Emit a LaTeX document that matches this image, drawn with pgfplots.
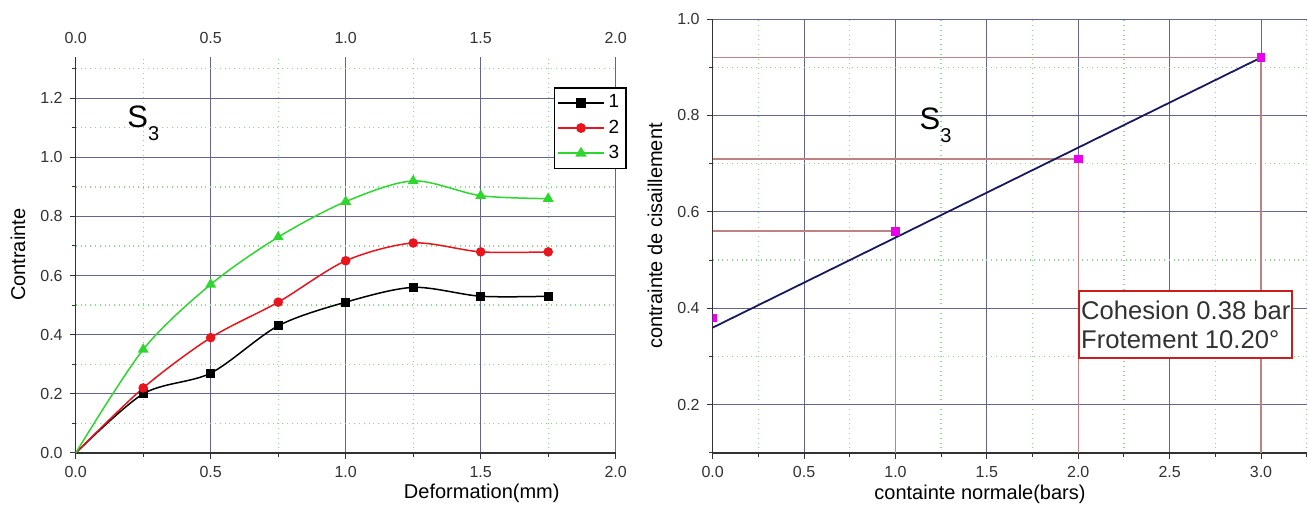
\documentclass[border=0pt]{standalone}
\usepackage{pgfplots}
\pgfplotsset{compat=1.18}
\usepackage{fontspec}
\setmainfont{Liberation Sans}
\definecolor{majgrid}{RGB}{100,100,145}
\definecolor{mingrid}{RGB}{140,215,140}
\definecolor{ser2}{RGB}{232,20,30}
\definecolor{ser3}{RGB}{45,215,45}
\definecolor{dropc}{RGB}{190,130,130}
\definecolor{ptc}{RGB}{235,0,235}
\definecolor{fitc}{RGB}{25,25,95}
\definecolor{txtc}{RGB}{50,50,50}
\definecolor{boxc}{RGB}{200,30,30}

\pgfplotsset{
  common/.style={
    scale only axis,
    axis x line*=bottom, axis y line*=left,
    axis line style={-, txtc, line width=0.6pt},
    grid=both,
    major grid style={majgrid, line width=0.5pt},
    minor grid style={mingrid, dotted, line width=0.7pt},
    tick style={txtc, line width=0.5pt},
    tick align=outside,
    major tick length=3pt, minor tick length=1.8pt,
    /pgf/number format/assume math mode=true,
    tick label style={font=\fontsize{8}{8}\selectfont, text=txtc},
    xticklabel style={/pgf/number format/fixed, /pgf/number format/fixed zerofill, /pgf/number format/precision=1},
    yticklabel style={/pgf/number format/fixed, /pgf/number format/fixed zerofill, /pgf/number format/precision=1},
    label style={font=\fontsize{9.8}{10}\selectfont, text=txtc},
  },
}

\begin{document}
\begin{tikzpicture}
\useasboundingbox (0,0) rectangle (654pt,254pt);

% ---------- left chart ----------
\begin{axis}[common,
  at={(37.85pt,27.5pt)}, anchor=south west,
  width=270pt, height=198.15pt,
  xmin=0, xmax=2, ymin=0, ymax=1.34,
  xtick={0,0.5,1,1.5,2}, ytick={0,0.2,0.4,0.6,0.8,1.0,1.2},
  minor xtick={0.25,0.75,1.25,1.75}, minor ytick={0.1,0.3,0.5,0.7,0.9,1.1,1.3},
  xlabel={Deformation(mm)}, ylabel={Contrainte},
  every axis x label/.style={at={(axis description cs:0.752,-0.103)}, anchor=center},
  every axis y label/.style={at={(axis description cs:-0.107,0.5)}, rotate=90, anchor=center},
  legend style={at={(1.021,0.9235)}, anchor=north east, draw=black, line width=0.8pt,
    font=\fontsize{9.5}{9.5}\selectfont, inner sep=1.5pt, row sep=0.5pt,
    cells={anchor=west}},
  legend image code/.code={\draw[#1, line width=0.9pt, mark indices={2}] plot coordinates {(0cm,0cm) (0.4cm,0cm) (0.8cm,0cm)};},
]
\addplot[black, line width=0.75pt, smooth, mark=square*, mark size=1.9pt, mark indices={2,3,4,5,6,7,8}]
  coordinates {(0,0) (0.25,0.20) (0.5,0.27) (0.75,0.43) (1.0,0.51) (1.25,0.56) (1.5,0.53) (1.75,0.53)};
\addlegendentry{1}
\addplot[ser2, line width=0.75pt, smooth, mark=*, mark size=2pt, mark indices={2,3,4,5,6,7,8}]
  coordinates {(0,0) (0.25,0.22) (0.5,0.39) (0.75,0.51) (1.0,0.65) (1.25,0.71) (1.5,0.68) (1.75,0.68)};
\addlegendentry{2}
\addplot[ser3, line width=0.75pt, smooth, mark=triangle*, mark size=2.4pt, mark indices={2,3,4,5,6,7,8}]
  coordinates {(0,0) (0.25,0.35) (0.5,0.57) (0.75,0.73) (1.0,0.85) (1.25,0.92) (1.5,0.87) (1.75,0.86)};
\addlegendentry{3}
\node[font=\fontsize{15.5}{15.5}\selectfont, anchor=base west, inner sep=0pt] at (axis cs:0.19,1.10) {S\raisebox{-6.5pt}{\fontsize{10}{10}\selectfont 3}};
\end{axis}

% top tick labels of the left chart
\begin{axis}[
  at={(37.85pt,27.5pt)}, anchor=south west,
  scale only axis, width=270pt, height=198.15pt,
  xmin=0, xmax=2, ymin=0, ymax=1.34,
  axis x line*=top, hide y axis,
  x axis line style={draw=none},
  xtick={0,0.5,1,1.5,2}, major tick length=0pt,
  /pgf/number format/assume math mode=true,
  xticklabel style={font=\fontsize{8}{8}\selectfont, text=txtc, /pgf/number format/fixed, /pgf/number format/fixed zerofill, /pgf/number format/precision=1, yshift=3pt},
]
\addplot[draw=none] coordinates {(0,0) (2,1)};
\end{axis}

% ---------- right chart ----------
\begin{axis}[common,
  at={(356.35pt,27.5pt)}, anchor=south west,
  width=297pt, height=217pt,
  xmin=0, xmax=3.25, ymin=0.1, ymax=1.0,
  xtick={0,0.5,1,1.5,2,2.5,3}, ytick={0.2,0.4,0.6,0.8,1.0},
  minor xtick={0.25,0.75,1.25,1.75,2.25,2.75,3.25}, minor ytick={0.1,0.3,0.5,0.7,0.9},
  xlabel={containte normale(bars)}, ylabel={contrainte de cisaillement},
  every axis x label/.style={at={(axis description cs:0.45,-0.0945)}, anchor=center},
  every axis y label/.style={at={(axis description cs:-0.097,0.5)}, rotate=90, anchor=center},
  clip marker paths=true,
]
\addplot[dropc, line width=0.7pt] coordinates {(0,0.56) (1,0.56)};
\addplot[dropc, line width=0.7pt] coordinates {(0,0.71) (2,0.71)};
\addplot[dropc, line width=0.7pt] coordinates {(0,0.92) (3,0.92)};
\addplot[dropc, line width=0.7pt] coordinates {(1,0.1) (1,0.56)};
\addplot[dropc, line width=0.7pt] coordinates {(2,0.1) (2,0.71)};
\addplot[dropc, line width=0.7pt] coordinates {(3,0.1) (3,0.92)};
\addplot[fitc, line width=0.9pt] coordinates {(0,0.36) (3,0.92)};
\addplot[only marks, mark=square*, mark size=1.9pt, ptc] coordinates {(0,0.38) (1,0.56) (2,0.71) (3,0.92)};
\node[font=\fontsize{15.5}{15.5}\selectfont, anchor=base west, inner sep=0pt] at (axis cs:1.13,0.77) {S\raisebox{-6.5pt}{\fontsize{10}{10}\selectfont 3}};
\node[draw=boxc, line width=1pt, fill=white, anchor=north west, inner sep=1pt, align=left,
  font=\fontsize{12.8}{14.5}\selectfont, text=txtc, minimum width=104.5pt, minimum height=33.5pt]
  at (axis cs:2.0,0.437) {Cohesion 0.38 bar\\Frotement 10.20°};
\end{axis}
\end{tikzpicture}
\end{document}
